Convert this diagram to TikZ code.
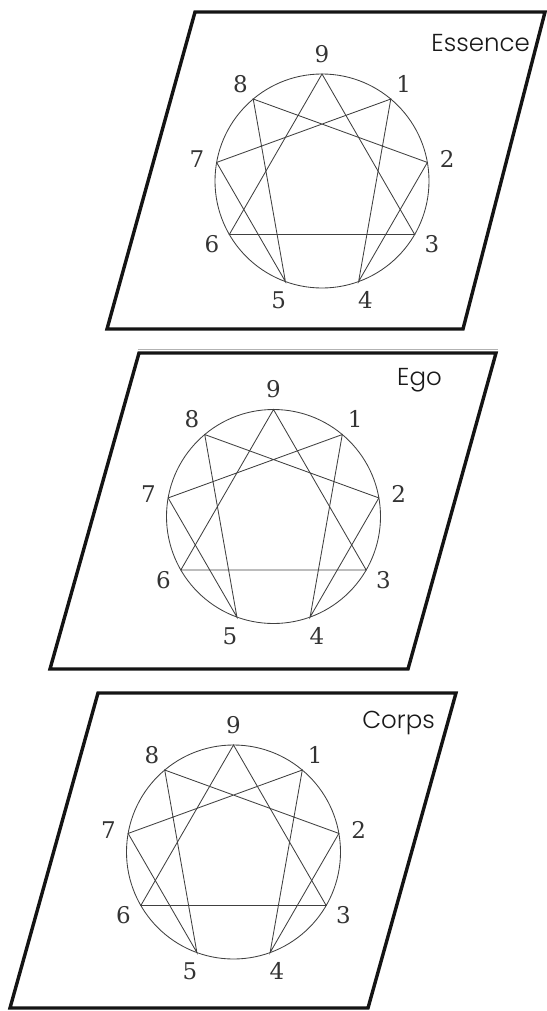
\documentclass[tikz,border=0pt]{standalone}
\usepackage{fontspec}
\newfontfamily\titlefont{Poppins Light}
\newfontfamily\digitfont{DejaVu Serif}
\begin{document}
\begin{tikzpicture}[x=1pt,y=-1pt,
  frame/.style={draw=black!92,line width=3.4pt,line join=miter},
  eline/.style={draw=black!75,line width=0.85pt},
  digit/.style={inner sep=0pt,font=\digitfont\fontsize{23}{23}\selectfont,text=black!80},
  title/.style={inner sep=0pt,font=\titlefont\fontsize{24.5}{25}\selectfont,text=black!90,anchor=base east},
  ennea/.pic={
    \draw[eline] (0,0) circle (107pt);
    \foreach \k in {1,...,9}{
      \coordinate (-p\k) at ({90-40*\k}:107pt);
      \node[digit] (-l\k) at ({90-40*\k}:127pt) {\k};
    }
    \draw[eline] (-p9) -- (-p3) -- (-p6) -- cycle;
    \draw[eline] (-p1) -- (-p4) -- (-p2) -- (-p8) -- (-p5) -- (-p7) -- cycle;
  }]
\useasboundingbox (0,0) rectangle (546,1011);
% panel 1
\draw[frame] (195,12) -- (545,12) -- (463,329) -- (107,329) -- cycle;
\pic (A) at (322,181) {ennea};
\node[title] (essence) at (530,52) {Essence};
% faint separator
\draw[draw=black!30,line width=0.8pt] (138,349) -- (498,349);
% panel 2
\draw[frame] (139,353) -- (496,353) -- (408,669) -- (50,669) -- cycle;
\pic (B) at (273.5,516.5) {ennea};
\node[title] (ego) at (442,385) {Ego};
% panel 3
\draw[frame] (98,693) -- (456,693) -- (368,1008) -- (10,1008) -- cycle;
\pic (C) at (233.5,852) {ennea};
\node[title] (corps) at (435,728) {Corps};
\end{tikzpicture}
\end{document}
